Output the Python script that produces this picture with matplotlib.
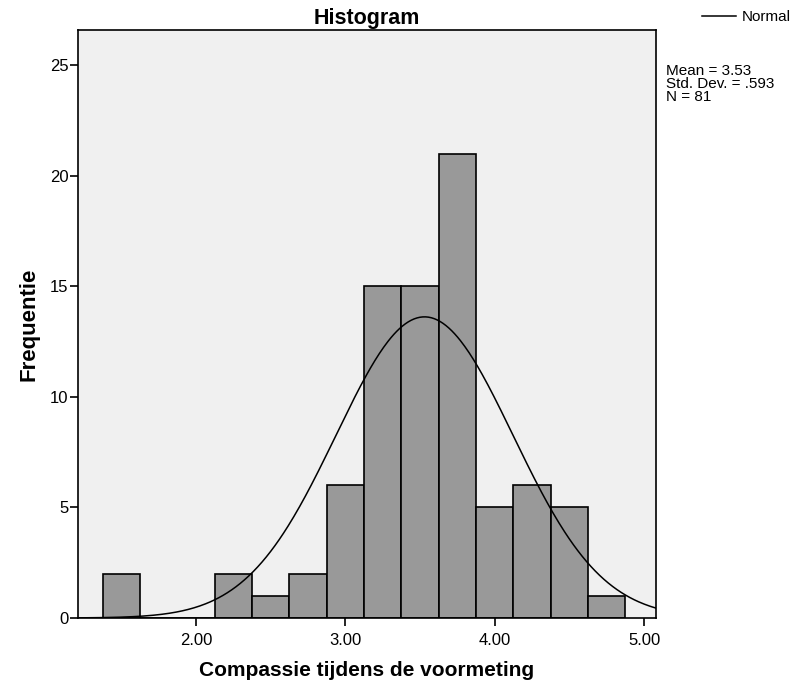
import numpy as np
import matplotlib
matplotlib.use("Agg")
import matplotlib.pyplot as plt

plt.rcParams['font.family'] = ['Liberation Sans', 'DejaVu Sans']

# histogram data
bin_edges = [1.375, 1.625, 1.875, 2.125, 2.375, 2.625, 2.875, 3.125,
             3.375, 3.625, 3.875, 4.125, 4.375, 4.625, 4.875]
counts = [2, 0, 0, 2, 1, 2, 6, 15, 15, 21, 5, 6, 5, 1]
mean = 3.53
sd = 0.593
n = 81
x_ticks = [2.0, 3.0, 4.0, 5.0]
x_tick_labels = ["2.00", "3.00", "4.00", "5.00"]
y_ticks = [0, 5, 10, 15, 20, 25]

fig = plt.figure(figsize=(7.98, 6.86), dpi=100)
ax = fig.add_axes([78/798, 1-618/686, 578/798, 588/686])
ax.set_facecolor('#f0f0f0')

lefts = np.array(bin_edges[:-1])
widths = np.diff(bin_edges)
ax.bar(lefts, counts, width=widths, align='edge', color='#999999',
       edgecolor='black', linewidth=1.2, zorder=2)

xmin, xmax = 1.21, 5.08
xs = np.linspace(xmin, xmax, 400)
bw = widths[0]
ys = n * bw / (sd * np.sqrt(2*np.pi)) * np.exp(-0.5*((xs-mean)/sd)**2)
line, = ax.plot(xs, ys, color='black', linewidth=1.1, zorder=3)

ax.set_xlim(xmin, xmax)
ax.set_ylim(0, 26.6)
ax.set_xticks(x_ticks)
ax.set_xticklabels(x_tick_labels)
ax.set_yticks(y_ticks)
ax.tick_params(axis='both', direction='out', length=6, width=1.2,
               labelsize=12, top=False, right=False)
ax.tick_params(axis='x', pad=5)
ax.tick_params(axis='y', pad=1)
for s in ax.spines.values():
    s.set_linewidth(1.2)

ax.set_title("Histogram", fontsize=15.5, fontweight='bold', pad=4)
ax.set_xlabel("Compassie tijdens de voormeting", fontsize=15,
              fontweight='bold', labelpad=9)
ax.set_ylabel("Frequentie", fontsize=16, fontweight='bold', labelpad=7)

fig.legend([line], ["Normal"], loc='upper right', bbox_to_anchor=(1.008, 1.005),
           frameon=False, fontsize=11, handlelength=2.2, handletextpad=0.4)
fig.text(666/798, 1-64/686, "Mean = 3.53\nStd. Dev. = .593\nN = 81",
         fontsize=11, va='top', ha='left', linespacing=0.92)

fig.savefig("out.png", dpi=100)
